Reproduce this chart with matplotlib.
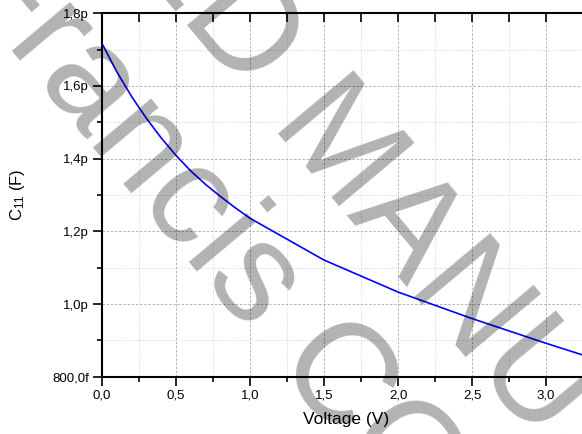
import matplotlib
matplotlib.use("Agg")
import matplotlib.pyplot as plt
from matplotlib.ticker import MultipleLocator, FuncFormatter

# === DONNEES (C en pF) ===
voltage = [0.0, 0.1, 0.2, 0.3, 0.4, 0.5, 0.6, 0.7, 0.8, 0.9, 1.0,
           1.5, 2.0, 2.5, 3.0, 3.3]
c11 = [1.717, 1.639, 1.571, 1.511, 1.457, 1.409, 1.366, 1.329, 1.296, 1.265, 1.236,
       1.121, 1.033, 0.960, 0.892, 0.853]

wm_line1 = "ACCEPTED MANUSCRIPT"
wm_line2 = "Taylor & Francis COPY"

plt.rcParams['font.family'] = ['Liberation Sans', 'DejaVu Sans']
plt.rcParams['mathtext.default'] = 'regular'

W, H = 582, 434
fig = plt.figure(figsize=(W / 100, H / 100), dpi=100)
ax_w = 3.3 * 148 / W
ax = fig.add_axes([102 / W, (H - 376.7) / H, ax_w, 363.4 / H])

ax.plot(voltage, c11, color='#0000ff', lw=1.2, zorder=3)

ax.set_xlim(0, 3.3)
ax.set_ylim(0.8, 1.8)

ax.xaxis.set_major_locator(MultipleLocator(0.5))
ax.xaxis.set_minor_locator(MultipleLocator(0.25))
ax.yaxis.set_major_locator(MultipleLocator(0.2))
ax.yaxis.set_minor_locator(MultipleLocator(0.1))


def fmt_x(v, pos):
    return f"{v:.1f}".replace('.', ',')


def fmt_y(v, pos):
    if v < 0.999:
        return f"{v * 1000:.1f}f".replace('.', ',')
    return f"{v:.1f}p".replace('.', ',')


ax.xaxis.set_major_formatter(FuncFormatter(fmt_x))
ax.yaxis.set_major_formatter(FuncFormatter(fmt_y))

ax.grid(which='major', color='#a8a8a8', ls=(0, (3, 2)), lw=0.6)
ax.grid(which='minor', color='#cccccc', ls=(0, (1, 1.5)), lw=0.6)
ax.set_axisbelow(True)

for s in ['left', 'bottom', 'top']:
    ax.spines[s].set_linewidth(1.5)
ax.spines['right'].set_visible(False)

ax.tick_params(which='major', direction='out', length=6.5, width=1.2,
               labelsize=9.5, colors='black')
ax.tick_params(which='minor', direction='out', length=3.5, width=1.2)
ax.tick_params(axis='x', which='major', pad=2.5)
ax.tick_params(axis='y', which='major', pad=3)
ax.tick_params(axis='x', which='both', top=True, labeltop=False)
# ticks du haut vers l'interieur
for t in ax.xaxis.get_major_ticks() + ax.xaxis.get_minor_ticks():
    t.tick2line.set_marker(3)
    t.tick2line.set_markersize(6.5)

ax.set_xlabel("Voltage (V)", fontsize=12.5)
ax.set_ylabel("C$_{11}$ (F)", fontsize=12)
ax.xaxis.set_label_coords(0.5, -0.098)
ax.yaxis.set_label_coords(-0.154, 0.5)

# === FILIGRANE ===
wm = dict(rotation=-50, rotation_mode='anchor', ha='left', va='baseline',
          fontsize=102, color='black', alpha=0.3, zorder=10)
fig.text(-251 / W, 1 + 497 / H, wm_line1, **wm)
fig.text(-405 / W, 1 + 445 / H, wm_line2, **wm)

fig.savefig("out.png", dpi=100)
